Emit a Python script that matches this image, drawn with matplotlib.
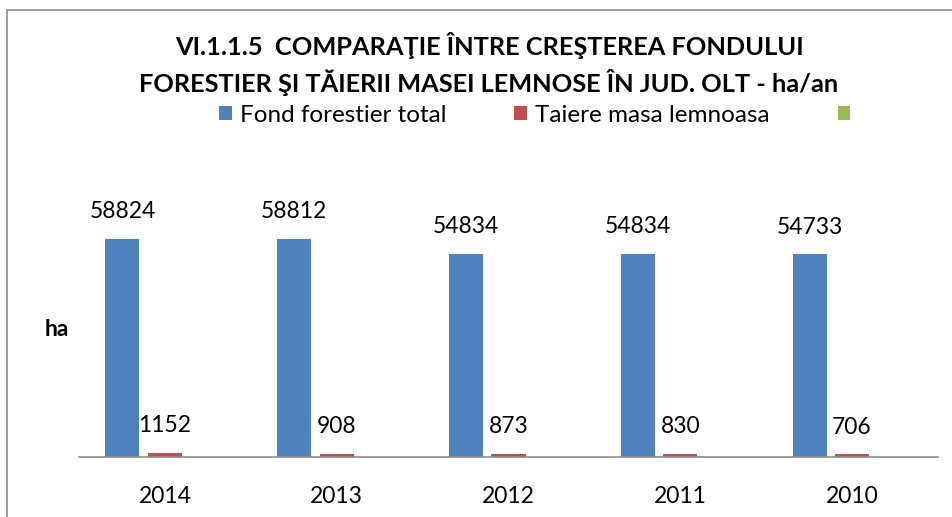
import numpy as np
import matplotlib.pyplot as plt
from matplotlib.patches import Rectangle

years = ["2014", "2013", "2012", "2011", "2010"]
fond_forestier = [58824, 58812, 54834, 54834, 54733]
taiere_masa = [1152, 908, 873, 830, 706]
third_series = [0, 0, 0, 0, 0]

title = ("VI.1.1.5  COMPARAŢIE ÎNTRE CREŞTEREA FONDULUI\n"
         "FORESTIER ŞI TĂIERII MASEI LEMNOSE ÎN JUD. OLT - ha/an")

BLUE = "#4F81BD"
RED = "#C0504D"
GREEN = "#9BBB59"
FONT = "Lato"

W, H = 952, 517
fig = plt.figure(figsize=(W / 100, H / 100), dpi=100)

# chart frame (runs off the right and bottom edges)
fig.patches.append(Rectangle((7 / W, -0.05), 1.0, (H - 10) / H + 0.05,
                             transform=fig.transFigure, fill=False,
                             edgecolor="#8c8c8c", linewidth=1.2))

ax = fig.add_axes([79 / W, 60 / H, (938 - 79) / W, 259.4 / H])
x = np.arange(len(years))
bw = 0.198
off = 0.247

b1 = ax.bar(x - off, fond_forestier, bw, color=BLUE, label="Fond forestier total")
b2 = ax.bar(x, taiere_masa, bw, color=RED, label="Taiere masa lemnoasa")
b3 = ax.bar(x + off, third_series, bw, color=GREEN, label=" ")

for bars, vals in ((b1, fond_forestier), (b2, taiere_masa)):
    for rect, v in zip(bars, vals):
        ax.annotate(f"{v}", (rect.get_x() + rect.get_width() / 2, v),
                    xytext=(0, 19.5), textcoords="offset points",
                    ha="center", va="center", fontsize=16.5, family=FONT)

ax.set_xlim(-0.5, len(years) - 0.5)
ax.set_ylim(0, 70000)
ax.set_xticks(x)
ax.set_xticklabels(years, fontsize=16.5, family=FONT)
ax.tick_params(axis="x", length=0, pad=21)
ax.set_yticks([])
for s in ("top", "right", "left"):
    ax.spines[s].set_visible(False)
ax.spines["bottom"].set_color("#8c8c8c")
ax.spines["bottom"].set_linewidth(1.2)

fig.text(57 / W, 1 - 330 / H, "ha", fontsize=16.5, fontweight="bold",
         family=FONT, ha="center", va="center")

fig.text(489 / W, 1 - 64 / H, title, fontsize=18.3, fontweight="bold",
         family=FONT, ha="center", va="center", linespacing=1.4)

fig.legend(handles=[b1, b2, b3], loc="center left",
           bbox_to_anchor=(207 / W, 1 - 115 / H), ncol=3, frameon=False,
           prop={"family": FONT, "size": 17.5}, handlelength=0.52,
           handleheight=0.52, handletextpad=0.33, columnspacing=2.8,
           borderpad=0)

fig.savefig("out.png", dpi=100)
